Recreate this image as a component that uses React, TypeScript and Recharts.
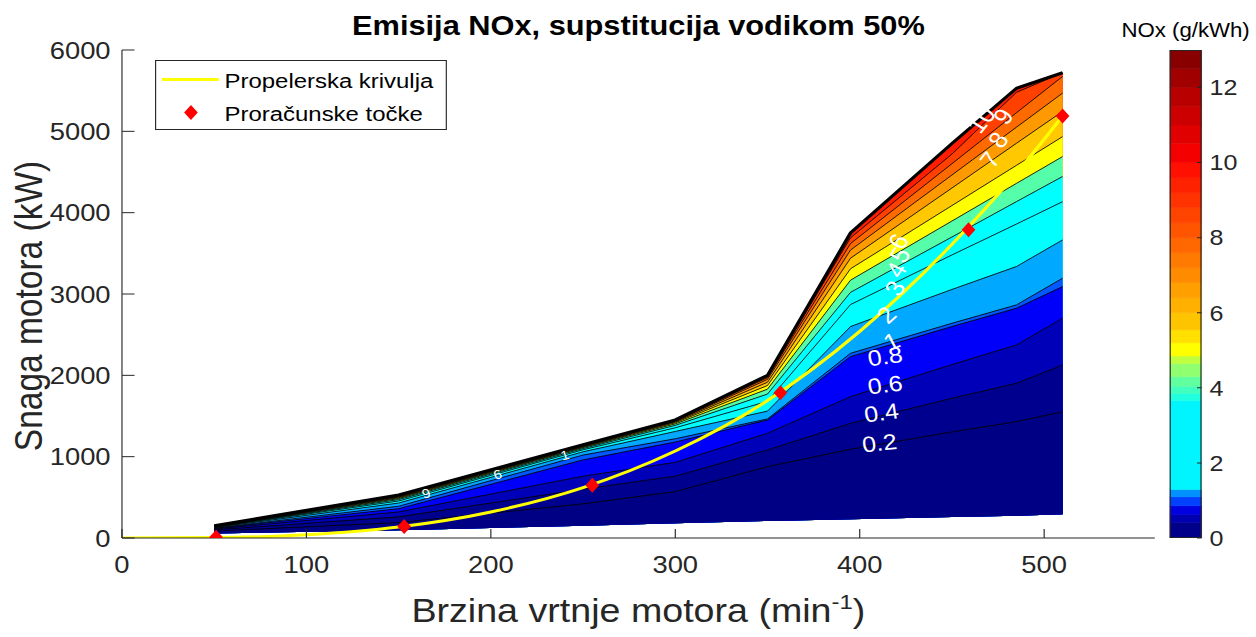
import React from 'react';
import {
  ComposedChart, Area, Line, Scatter, XAxis, YAxis, Legend, BarChart, Bar,
} from 'recharts';

const FONT = '"Liberation Sans", Arial, Helvetica, sans-serif';
const AXC = '#262626';
const STRETCH = 1.14;
const W0 = 1102;
const H0 = 637;

// ---- contour table (rpm grid, kW values of each contour level) ----
const rpmGrid = [50, 150, 250, 300, 350, 395, 450, 485, 510];
const bottomEdge = [55, 95, 150, 180, 210, 232, 258, 275, 292];
const lvl0_2 = [85, 190, 420, 570, 877, 1091, 1304, 1431, 1553];
const lvl0_4 = [100, 260, 600, 760, 1082, 1410, 1718, 1902, 2128];
const lvl0_6 = [110, 320, 760, 930, 1288, 1738, 2132, 2374, 2702];
const lvl0_8 = [117, 360, 960, 1180, 1451, 2230, 2600, 2825, 3091];
const lvl1 = [121, 390, 1020, 1220, 1464, 2271, 2640, 2866, 3194];
const lvl2 = [127, 430, 1060, 1310, 1560, 2600, 3056, 3338, 3665];
const lvl3 = [132, 455, 1085, 1355, 1680, 2870, 3480, 3860, 4135];
const lvl4 = [135, 472, 1100, 1385, 1770, 3020, 3701, 4136, 4445];
const lvl5 = [138, 485, 1112, 1403, 1830, 3170, 3897, 4360, 4690];
const lvl6 = [141, 495, 1120, 1417, 1875, 3310, 4087, 4582, 4935];
const lvl7 = [143, 503, 1127, 1427, 1915, 3440, 4303, 4853, 5245];
const lvl8 = [145, 510, 1133, 1435, 1950, 3540, 4463, 5051, 5470];
const lvl9 = [147, 516, 1138, 1441, 1972, 3620, 4602, 5229, 5675];
const lvl10 = [149, 522, 1142, 1446, 1988, 3690, 4720, 5480, 5720];
const topEdge = [152, 530, 1148, 1452, 2000, 3750, 4850, 5530, 5720];

const levelKeys = ['top', 'c10', 'c9', 'c8', 'c7', 'c6', 'c5', 'c4', 'c3', 'c2', 'c1', 'c08', 'c06', 'c04', 'c02'];
const levelValues = [topEdge, lvl10, lvl9, lvl8, lvl7, lvl6, lvl5, lvl4, lvl3, lvl2, lvl1, lvl0_8, lvl0_6, lvl0_4, lvl0_2];
// colour of the band just below each level line
const bandFills = ['#ff1c00', '#ff4000', '#ff6a00', '#ff9900', '#ffc800', '#ffff00', '#55ffaa', '#00ffff', '#00ffff', '#00a8ff', '#0058ff', '#0000fa', '#0000b8', '#00008f', '#000084'];

// ---- propeller curve & calculation points ----
const propRpm = [0, 50, 100, 150, 200, 250, 300, 350, 400, 450, 500, 510];
const propKw = [0, 5, 40, 135, 320, 620, 1070, 1690, 2540, 3610, 4900, 5190];
const ptRpm = [51, 153, 255, 357, 459, 510];
const ptKw = [8, 140, 650, 1785, 3790, 5190];

// ---- contour labels ----
const labelText = ['0.2', '0.4', '0.6', '0.8', '1', '2', '3', '4', '5', '6', '7', '8', '9', '10', '9', '6', '1'];
const labelRpm = [410.7, 411.8, 413.8, 413.8, 417.2, 414.5, 419.2, 419.9, 421.9, 421, 470.6, 475.1, 477.8, 465.9, 164.9, 203.6, 240.1];
const labelKw = [1165, 1538, 1882, 2230, 2415, 2743, 3071, 3296, 3481, 3645, 4650, 4895, 5182, 5141, 550, 783, 1021];
const labelAngle = [-7, -8, -8, -8, -25, -45, -60, -60, -60, -60, -55, -55, -55, -55, -15, -15, -15];
const labelSize = [22, 22, 22, 22, 23, 23, 23, 23, 23, 23, 23, 23, 23, 23, 13, 13, 13];

// ---- colour bar ----
const cbEdges = [0, 0.42, 0.63, 0.86, 1.1, 1.29, 3.66, 3.85, 4.04, 4.3, 4.65, 4.85, 5.2, 5.55, 6.0, 6.4, 6.8, 7.2, 7.6, 8.0, 8.4, 8.8, 9.2, 9.6, 10.0, 10.5, 11.0, 11.5, 12.0, 12.5, 13];
const cbColors = ['#00008a', '#0000b0', '#0000e0', '#0040ff', '#0090ff', '#00f5ff', '#20ffdf', '#40ffbf', '#60ff9f', '#90ff70', '#c0ff40', '#ffff00', '#ffe000', '#ffc400', '#ffb000', '#ff9f00', '#ff8c00', '#ff7a00', '#ff6800', '#ff5500', '#ff4400', '#ff3300', '#ff2200', '#ff1000', '#f50000', '#e00000', '#cc0000', '#b80000', '#a00000', '#880000'];
const cbTicks = [0, 2, 4, 6, 8, 10, 12];

const xTicks = [0, 100, 200, 300, 400, 500];
const yTicks = [0, 1000, 2000, 3000, 4000, 5000, 6000];

// ---- build tables ----
const contourTable = rpmGrid.map((rpm, i) => {
  const row: Record<string, any> = { rpm };
  levelKeys.forEach((k, j) => {
    row[k] = levelValues[j][i];
    row[k + 'Band'] = [bottomEdge[i], levelValues[j][i]];
  });
  return row;
});
const propData = propRpm.map((rpm, i) => ({ rpm, prop: propKw[i] }));
const ptData = ptRpm.map((rpm, i) => ({ rpm, pts: ptKw[i] }));
const labelData = labelText.map((t, i) => ({ rpm: labelRpm[i], lab: labelKw[i], text: t, angle: labelAngle[i], size: labelSize[i] }));
const cbRow: Record<string, any> = { name: 'cb' };
cbColors.forEach((_, i) => { cbRow['s' + i] = +(cbEdges[i + 1] - cbEdges[i]).toFixed(4); });

const Diamond = (p: any) => {
  const { cx, cy } = p;
  if (cx == null || cy == null) return null;
  return <polygon points={`${cx},${cy - 7.5} ${cx + 6},${cy} ${cx},${cy + 7.5} ${cx - 6},${cy}`} fill="#ff0000" />;
};

const LabelShape = (p: any) => {
  const { cx, cy, payload } = p;
  if (cx == null || cy == null) return null;
  return (
    <text x={cx} y={cy} fill="#ffffff" fontSize={payload.size} fontFamily={FONT}
      textAnchor="middle" dominantBaseline="central"
      transform={`rotate(${payload.angle} ${cx} ${cy})`}>{payload.text}</text>
  );
};

const LegendBox = () => (
  <div style={{ width: 256, height: 70, boxSizing: 'border-box', border: `1px solid ${AXC}`, background: '#fff', position: 'relative' }}>
    <svg width={256} height={70} style={{ position: 'absolute', left: -1, top: -1 }}>
      <line x1={6} x2={56} y1={19.5} y2={19.5} stroke="#ffff00" strokeWidth={3} />
      <polygon points="31.5,45 37.5,52.5 31.5,60 25.5,52.5" fill="#ff0000" />
      <text x={61} y={28.5} fontFamily={FONT} fontSize={21} fill="#000">Propelerska krivulja</text>
      <text x={61} y={61.5} fontFamily={FONT} fontSize={21} fill="#000">Proračunske točke</text>
    </svg>
  </div>
);

const tickStyle = { fill: AXC, fontSize: 24, fontFamily: FONT };

export default function App() {
  return (
    <div style={{ position: 'absolute', left: 0, top: 0, width: 1256, height: 637, overflow: 'hidden', background: '#fff' }}>
      <div style={{ position: 'absolute', left: 0, top: 0, width: W0, height: H0, transform: `scaleX(${STRETCH})`, transformOrigin: '0 0' }}>
        <ComposedChart width={W0} height={H0} data={contourTable} margin={{ top: 50, right: 89, bottom: 39, left: 47 }}>
          <XAxis xAxisId="b" dataKey="rpm" type="number" domain={[0, 560]} ticks={xTicks} allowDataOverflow
            height={60} tickSize={-9} tickMargin={27} stroke={AXC} tick={tickStyle} interval={0} />
          <XAxis xAxisId="t" orientation="top" dataKey="rpm" type="number" domain={[0, 560]} ticks={xTicks} allowDataOverflow
            height={0} tickSize={-9} tick={false} stroke={AXC} interval={0} />
          <YAxis yAxisId="l" type="number" domain={[0, 6000]} ticks={yTicks} allowDataOverflow width={60}
            tickSize={-11} tickMargin={21} stroke={AXC} tick={tickStyle} interval={0} />
          <YAxis yAxisId="r" orientation="right" type="number" domain={[0, 6000]} ticks={yTicks} allowDataOverflow width={0}
            tickSize={-11} tick={false} stroke={AXC} interval={0} />
          {levelKeys.map((k, j) => (
            <Area key={'a' + k} xAxisId="b" yAxisId="l" dataKey={k + 'Band'} type="linear" fill={bandFills[j]} fillOpacity={1}
              stroke="none" isAnimationActive={false} dot={false} activeDot={false} />
          ))}
          {levelKeys.slice(1).map((k) => (
            <Line key={'l' + k} xAxisId="b" yAxisId="l" dataKey={k} type="linear" stroke="#000" strokeWidth={0.8}
              dot={false} activeDot={false} isAnimationActive={false} />
          ))}
          <Line xAxisId="b" yAxisId="l" dataKey="top" type="linear" stroke="#000" strokeWidth={3}
            dot={false} activeDot={false} isAnimationActive={false} />
          <Line xAxisId="b" yAxisId="l" data={propData} dataKey="prop" type="monotone" stroke="#ffff00" strokeWidth={3}
            dot={false} activeDot={false} isAnimationActive={false} />
          <Scatter xAxisId="b" yAxisId="l" data={labelData} dataKey="lab" shape={LabelShape} isAnimationActive={false} />
          <Scatter xAxisId="b" yAxisId="l" data={ptData} dataKey="pts" shape={Diamond} fill="#ff0000" isAnimationActive={false} />
          <Legend layout="vertical" align="center" verticalAlign="middle"
            wrapperStyle={{ left: 136, top: 60, width: 256, height: 70 }} content={() => <LegendBox />} />
        </ComposedChart>

        <div style={{ position: 'absolute', left: 1026, top: 0 }}>
          <BarChart width={72} height={H0} data={[cbRow]} margin={{ top: 50, right: 0, bottom: 99, left: 0 }} barCategoryGap={0} barGap={0}>
            <XAxis dataKey="name" hide />
            <YAxis orientation="right" type="number" domain={[0, 13]} ticks={cbTicks} allowDataOverflow width={44}
              tickSize={-4} tickMargin={11} axisLine={false} stroke={AXC} interval={0}
              tick={{ fill: AXC, fontSize: 22, fontFamily: FONT, textAnchor: 'start' }} />
            {cbColors.map((c, i) => (
              <Bar key={'s' + i} dataKey={'s' + i} stackId="cb" fill={c} stroke={c} strokeWidth={0.6} isAnimationActive={false} />
            ))}
          </BarChart>
        </div>
        <div style={{ position: 'absolute', left: 1026, top: 50, width: 28, height: 488, boxSizing: 'border-box', border: `1px solid ${AXC}`, pointerEvents: 'none' }} />

        <svg width={W0} height={H0} style={{ position: 'absolute', left: 0, top: 0, pointerEvents: 'none' }}>
          <text x={560} y={35} textAnchor="middle" fontFamily={FONT} fontSize={27} fontWeight="bold" fill="#000">
            Emisija NOx, supstitucija vodikom 50%
          </text>
          <text x={560} y={622} textAnchor="middle" fontFamily={FONT} fontSize={33} fill={AXC}>
            Brzina vrtnje motora (min<tspan dy={-13} fontSize={21}>-1</tspan><tspan dy={13}>)</tspan>
          </text>
          <text x={37} y={306} textAnchor="middle" fontFamily={FONT} fontSize={33.5} fill={AXC} transform="rotate(-90 37 306)">
            Snaga motora (kW)
          </text>
          <text x={1040} y={37} textAnchor="middle" fontFamily={FONT} fontSize={19.5} fill="#000">
            NOx (g/kWh)
          </text>
        </svg>
      </div>
    </div>
  );
}
